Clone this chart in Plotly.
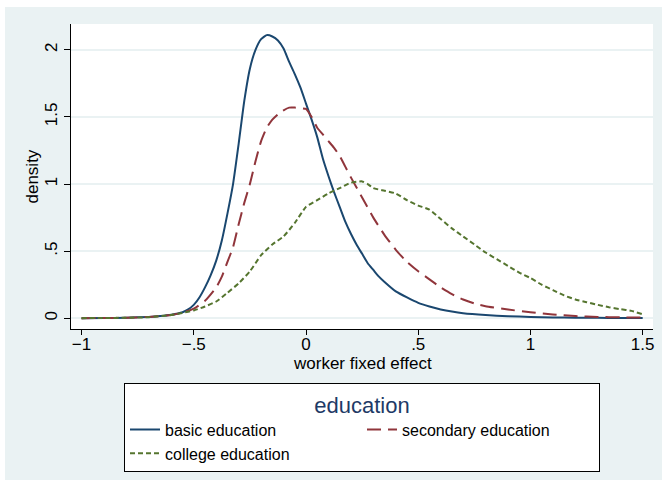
import plotly.graph_objects as go

# ---- data ----
basic_x = [-1.0, -0.9, -0.8, -0.7, -0.65, -0.6, -0.55, -0.525, -0.5, -0.475, -0.45, -0.425, -0.4, -0.375,
           -0.35, -0.325, -0.3, -0.275, -0.25, -0.225, -0.2, -0.175, -0.15, -0.125, -0.1, -0.075, -0.05,
           -0.025, 0.0, 0.025, 0.05, 0.075, 0.1, 0.125, 0.15, 0.175, 0.2, 0.225, 0.25, 0.275, 0.3, 0.325,
           0.35, 0.4, 0.45, 0.5, 0.55, 0.6, 0.65, 0.7, 0.8, 0.9, 1.0, 1.1, 1.2, 1.3, 1.4, 1.5]
basic_y = [0.001, 0.002, 0.004, 0.010, 0.016, 0.026, 0.045, 0.066, 0.10, 0.155, 0.23, 0.32, 0.43, 0.58,
           0.78, 1.00, 1.30, 1.62, 1.86, 2.00, 2.08, 2.11, 2.10, 2.07, 2.01, 1.91, 1.82,
           1.72, 1.60, 1.48, 1.35, 1.19, 1.06, 0.94, 0.83, 0.72, 0.63, 0.55, 0.48, 0.41, 0.36, 0.31,
           0.27, 0.20, 0.155, 0.115, 0.088, 0.066, 0.050, 0.038, 0.024, 0.015, 0.010, 0.006, 0.004, 0.003,
           0.002, 0.002]

second_x = [-1.0, -0.9, -0.8, -0.7, -0.6, -0.55, -0.5, -0.45, -0.4, -0.375, -0.35, -0.325, -0.3, -0.275,
            -0.25, -0.225, -0.2, -0.175, -0.15, -0.125, -0.1, -0.075, -0.05, -0.025, 0.0, 0.025, 0.05,
            0.075, 0.1, 0.125, 0.15, 0.175, 0.2, 0.25, 0.3, 0.35, 0.4, 0.45, 0.5, 0.55, 0.6, 0.65, 0.7,
            0.75, 0.8, 0.9, 1.0, 1.1, 1.2, 1.3, 1.4, 1.5]
second_y = [0.001, 0.002, 0.004, 0.010, 0.025, 0.042, 0.072, 0.13, 0.23, 0.31, 0.42, 0.53, 0.70, 0.86,
            1.00, 1.17, 1.32, 1.42, 1.48, 1.52, 1.55, 1.57, 1.57, 1.565, 1.56, 1.50, 1.42,
            1.37, 1.32, 1.27, 1.21, 1.13, 1.05, 0.90, 0.75, 0.62, 0.51, 0.42, 0.35, 0.29, 0.23, 0.18, 0.14,
            0.11, 0.09, 0.065, 0.045, 0.028, 0.016, 0.010, 0.007, 0.005]

college_x = [-1.0, -0.9, -0.8, -0.7, -0.6, -0.55, -0.5, -0.45, -0.4, -0.35, -0.3, -0.25, -0.2, -0.15,
             -0.1, -0.05, 0.0, 0.05, 0.1, 0.15, 0.2, 0.25, 0.275, 0.3, 0.35, 0.4, 0.45, 0.5, 0.55, 0.6,
             0.65, 0.7, 0.75, 0.8, 0.85, 0.9, 0.95, 1.0, 1.05, 1.1, 1.15, 1.2, 1.25, 1.3, 1.35, 1.4,
             1.45, 1.5]
college_y = [0.001, 0.002, 0.004, 0.008, 0.025, 0.040, 0.058, 0.088, 0.125, 0.19, 0.26, 0.35, 0.47, 0.55,
             0.61, 0.71, 0.83, 0.88, 0.93, 0.97, 1.01, 1.02, 1.00, 0.97, 0.95, 0.93, 0.88, 0.84, 0.81, 0.74,
             0.67, 0.61, 0.55, 0.49, 0.44, 0.39, 0.34, 0.30, 0.25, 0.21, 0.17, 0.14, 0.12, 0.10, 0.082, 0.068,
             0.055, 0.030]

x_tickvals = [-1, -0.5, 0, 0.5, 1, 1.5]
x_ticktext = ["\u22121", "\u2212.5", "0", ".5", "1", "1.5"]
y_tickvals = [0, 0.5, 1, 1.5, 2]
y_ticktext = ["0", ".5", "1", "1.5", "2"]

NAVY = "#1A476F"
MAROON = "#90353B"
GREEN = "#55752F"
BG = "#EAF2F3"
FONT = "Liberation Sans"

fig = go.Figure()
fig.add_trace(go.Scatter(x=basic_x, y=basic_y, mode="lines", name="basic education",
                         line=dict(color=NAVY, width=2, shape="spline", smoothing=0.5)))
fig.add_trace(go.Scatter(x=second_x, y=second_y, mode="lines", name="secondary education",
                         line=dict(color=MAROON, width=2, dash="14px,7px", shape="spline", smoothing=0.5)))
fig.add_trace(go.Scatter(x=college_x, y=college_y, mode="lines", name="college education",
                         line=dict(color=GREEN, width=2, dash="5px,3px", shape="spline", smoothing=0.5)))

W, H = 667, 488
L, R, T, B = 71, 14, 24, 159
pw, ph = W - L - R, H - T - B

def px_x(p):
    return (p - L) / pw

def px_y(p):
    return (H - B - p) / ph

fig.update_layout(
    width=W, height=H,
    margin=dict(l=L, r=R, t=T, b=B, autoexpand=False),
    paper_bgcolor="white",
    plot_bgcolor="white",
    font=dict(family=FONT, size=17, color="black"),
    shapes=[
        dict(type="rect", xref="paper", yref="paper", layer="below",
             x0=px_x(5), x1=px_x(662), y0=px_y(480), y1=px_y(7),
             fillcolor=BG, line=dict(width=0)),
        dict(type="rect", xref="paper", yref="paper", layer="below",
             x0=0, x1=1, y0=0, y1=1, fillcolor="white", line=dict(width=0)),
    ],
    annotations=[
        dict(text="worker fixed effect", xref="paper", yref="paper", x=0.5, y=px_y(363),
             xanchor="center", yanchor="middle", showarrow=False, font=dict(size=17)),
        dict(text="density", xref="paper", yref="paper", x=px_x(32), y=0.5, textangle=-90,
             xanchor="center", yanchor="middle", showarrow=False, font=dict(size=17)),
    ],
    xaxis=dict(range=[-1.047, 1.546], tickvals=x_tickvals, ticktext=x_ticktext, automargin=False,
               showgrid=False, zeroline=False, showline=True, linecolor="black", linewidth=1,
               ticks="outside", ticklen=5, tickcolor="black", ticklabelstandoff=-5,
               tickfont=dict(size=17)),
    yaxis=dict(range=[-0.08, 2.193], tickvals=y_tickvals, ticktext=y_ticktext, tickangle=-90,
               automargin=False,
               showgrid=True, gridcolor=BG, gridwidth=1.5, zeroline=False,
               showline=True, linecolor="black", linewidth=1,
               ticks="outside", ticklen=6, tickcolor="black",
               tickfont=dict(size=17)),
    legend=dict(orientation="h", x=0.5, xanchor="center", y=px_y(383), yanchor="top",
                bgcolor="white", bordercolor="black", borderwidth=1,
                font=dict(size=16), entrywidth=192, traceorder="normal",
                title=dict(text="education", side="top center", font=dict(size=22, color="#1E3A66"))),
)

fig.write_html("out.html", config={"displayModeBar": False},
               post_script="document.body.style.margin='0px';")
